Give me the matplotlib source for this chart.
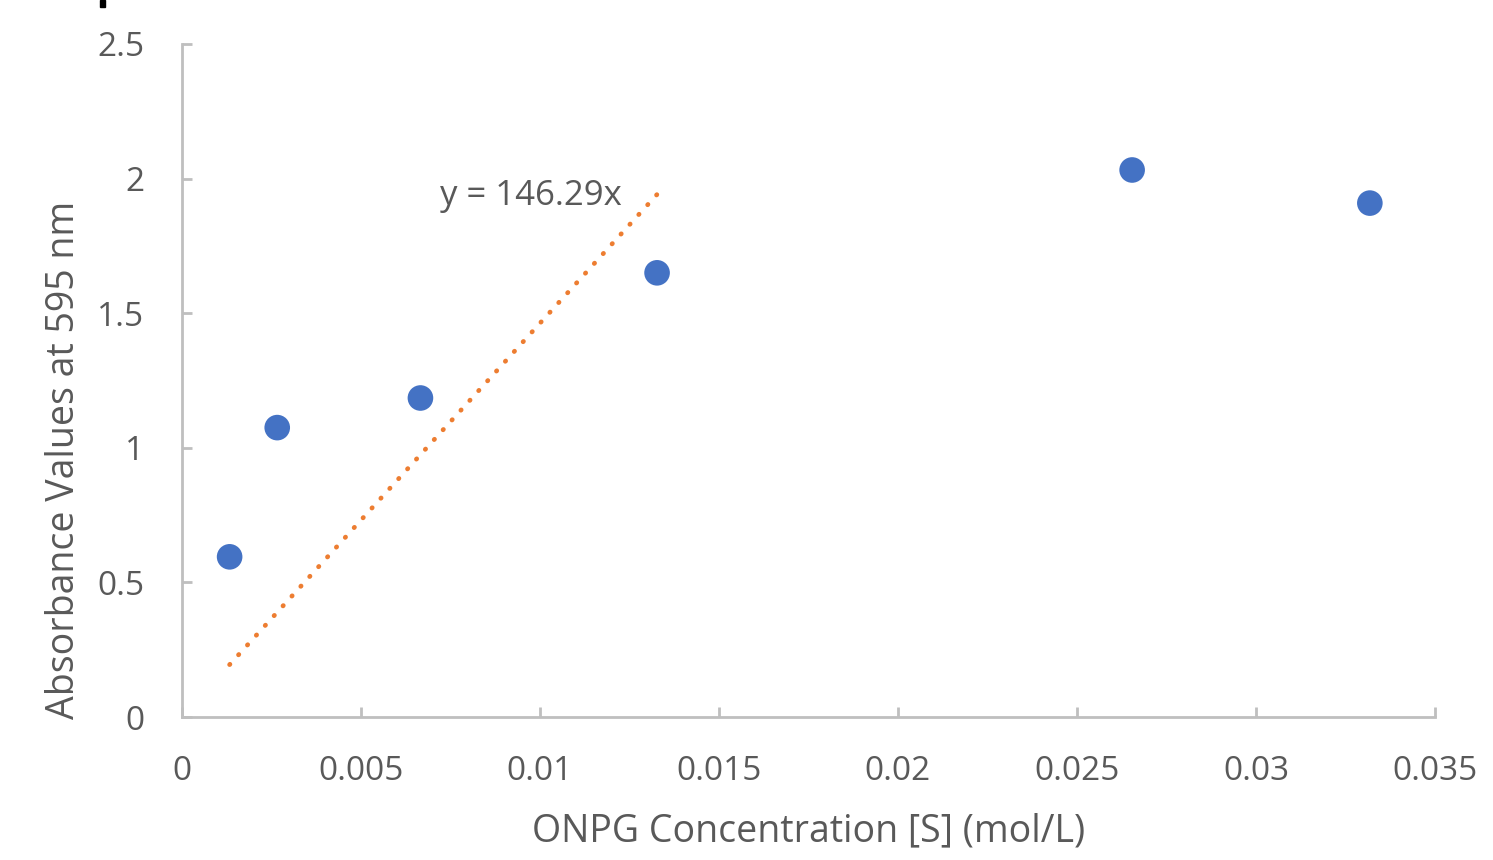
import matplotlib

matplotlib.use("Agg")

import matplotlib.pyplot as plt
import matplotlib.transforms as mtransforms
import numpy as np
from matplotlib.patches import Rectangle

# ONPG concentration vs absorbance at 595 nm
conc = [0.00133, 0.00266, 0.00666, 0.01327, 0.02654, 0.03318]
absorb = [0.595, 1.075, 1.185, 1.650, 2.032, 1.909]
slope = 146.29
fit_range = (conc[0], conc[3])  # trendline drawn over the first four points
x_ticks = [0, 0.005, 0.01, 0.015, 0.02, 0.025, 0.03, 0.035]
x_tick_labels = ["0", "0.005", "0.01", "0.015", "0.02", "0.025", "0.03", "0.035"]
y_ticks = [0, 0.5, 1, 1.5, 2, 2.5]
y_tick_labels = ["0", "0.5", "1", "1.5", "2", "2.5"]

TEXT = "#595959"
AXIS = "#BFBFBF"
BLUE = "#4472C4"
ORANGE = "#ED7D31"

plt.rcParams["font.family"] = ["Open Sans", "DejaVu Sans"]

W, H = 1493, 860
fig = plt.figure(figsize=(W / 100, H / 100), dpi=100)
ax = fig.add_axes([182 / W, 1 - 717 / H, (1435 - 182) / W, (717 - 44) / H])

# trendline
xf = np.array(fit_range)
ax.plot(xf, slope * xf, color=ORANGE, linewidth=3.4, linestyle=(0, (0.1, 2.7)),
        dash_capstyle="round", zorder=2)
ax.text(0.0072, 1.935, f"y = {slope}x", fontsize=25, color=TEXT,
        ha="left", va="center", zorder=3)

ax.scatter(conc, absorb, s=340, color=BLUE, edgecolors="none", zorder=4)

ax.set_xlim(0, 0.035)
ax.set_ylim(0, 2.5)
ax.set_xticks(x_ticks, x_tick_labels)
ax.set_yticks(y_ticks, y_tick_labels)

for side in ("top", "right"):
    ax.spines[side].set_visible(False)
for side in ("left", "bottom"):
    ax.spines[side].set_color(AXIS)
    ax.spines[side].set_linewidth(2)

ax.tick_params(axis="both", direction="in", length=7, width=2, color=AXIS,
               labelcolor=TEXT, labelsize=24)
ax.tick_params(axis="x", pad=27)
ax.tick_params(axis="y", pad=27)

ax.set_xlabel("ONPG Concentration [S] (mol/L)", fontsize=27, color=TEXT, labelpad=18)
ax.set_ylabel("Absorbance Values at 595 nm", fontsize=27, color=TEXT, va="center")
# y label sits below the axis centre in the original
ax.yaxis.set_label_coords(
    64 / W, (717 - 460) / (717 - 44),
    transform=mtransforms.blended_transform_factory(fig.transFigure, ax.transAxes),
)

# small black mark at the top-left corner of the original image
fig.patches.append(Rectangle((100 / W, 1 - 7 / H), 5 / W, 7 / H,
                             transform=fig.transFigure, color="black"))

fig.savefig("out.png", dpi=100)
